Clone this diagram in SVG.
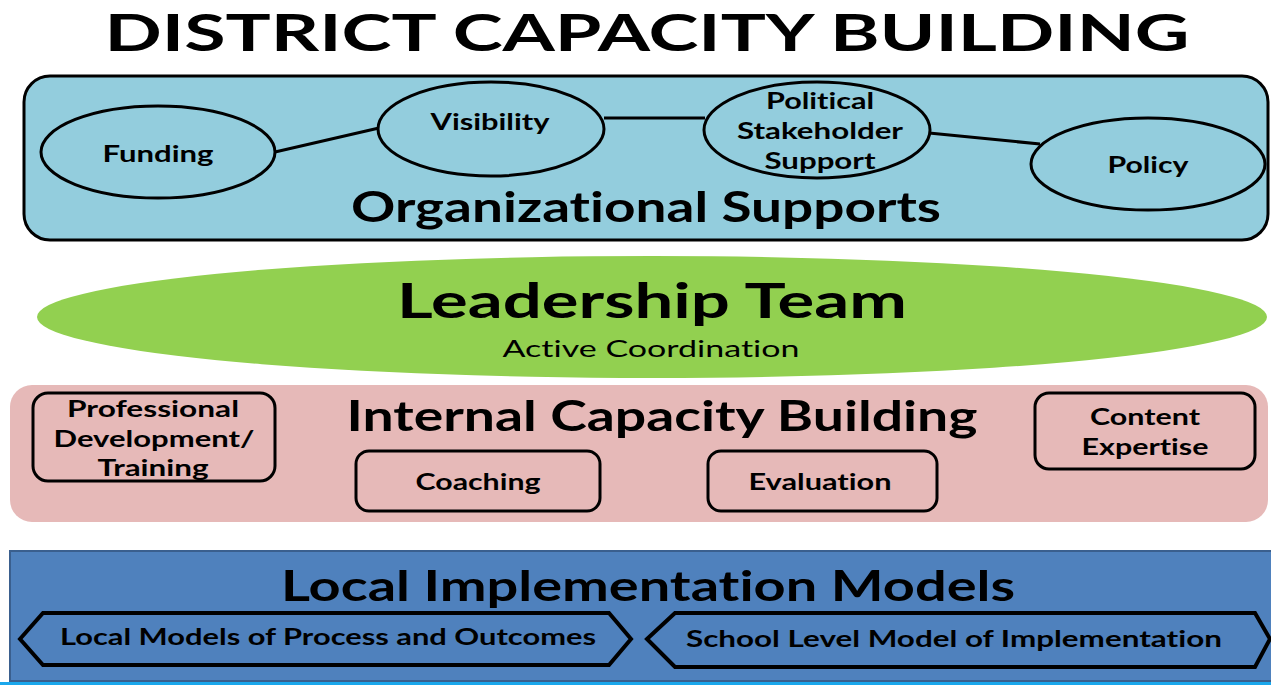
<svg xmlns="http://www.w3.org/2000/svg" width="1271" height="685" viewBox="0 0 1271 685">
  <style>
    text { font-family: Lato, "Open Sans", "Liberation Sans", sans-serif; fill: #000; text-anchor: middle; font-variant-ligatures: none; font-feature-settings: "liga" 0, "dlig" 0, "clig" 0; }
    .title { font-size: 52px; font-weight: 700; }
    .head { font-size: 42px; font-weight: 700; }
    .lead { font-size: 48px; font-weight: 700; }
    .sub { font-size: 24px; font-weight: 400; }
    .lbl { font-size: 23px; font-weight: 700; dominant-baseline: central; }
    .oval { fill: #93CDDD; stroke: #000; stroke-width: 3; }
    .box { fill: #E6B9B8; stroke: #000; stroke-width: 3; }
    .hex { fill: #4F81BD; stroke: #000; stroke-width: 4; stroke-linejoin: miter; }
    .link { stroke: #000; stroke-width: 3; fill: none; }
  </style>

  <rect width="1271" height="685" fill="#fff"/>

  <!-- page title -->
  <text class="title" x="647" y="51" textLength="1085" lengthAdjust="spacingAndGlyphs">DISTRICT CAPACITY BUILDING</text>

  <!-- organizational supports band -->
  <g id="org-supports">
    <rect x="24" y="76" width="1244" height="164" rx="26" fill="#93CDDD" stroke="#000" stroke-width="3"/>
    <text class="head" x="646" y="222" textLength="590" lengthAdjust="spacingAndGlyphs">Organizational Supports</text>
  </g>

  <g id="connectors">
    <line class="link" x1="275" y1="152" x2="379" y2="128"/>
    <line class="link" x1="604" y1="118" x2="705" y2="118"/>
    <line class="link" x1="929" y1="133" x2="1040" y2="144"/>
  </g>

  <g id="funding">
    <ellipse class="oval" cx="158" cy="152" rx="117" ry="46"/>
    <text class="lbl" x="158" y="153" textLength="111" lengthAdjust="spacingAndGlyphs">Funding</text>
  </g>
  <g id="visibility">
    <ellipse class="oval" cx="491" cy="129" rx="113" ry="47"/>
    <text class="lbl" x="490" y="121" textLength="119" lengthAdjust="spacingAndGlyphs">Visibility</text>
  </g>
  <g id="political-support">
    <ellipse class="oval" cx="817" cy="130" rx="113" ry="48"/>
    <text class="lbl" x="820" y="100" textLength="108" lengthAdjust="spacingAndGlyphs">Political</text>
    <text class="lbl" x="820" y="130" textLength="166" lengthAdjust="spacingAndGlyphs">Stakeholder</text>
    <text class="lbl" x="820" y="160" textLength="111" lengthAdjust="spacingAndGlyphs">Support</text>
  </g>
  <g id="policy">
    <ellipse class="oval" cx="1148" cy="164" rx="117" ry="46"/>
    <text class="lbl" x="1148" y="164" textLength="81" lengthAdjust="spacingAndGlyphs">Policy</text>
  </g>

  <!-- leadership team -->
  <g id="leadership-team">
    <ellipse cx="652" cy="317" rx="615" ry="61" fill="#92D050"/>
    <text class="lead" x="652" y="318" textLength="510" lengthAdjust="spacingAndGlyphs">Leadership Team</text>
    <text class="sub" x="651" y="357" textLength="297" lengthAdjust="spacingAndGlyphs">Active Coordination</text>
  </g>

  <!-- internal capacity building band -->
  <g id="internal-capacity">
    <rect x="10" y="385" width="1258" height="137" rx="22" fill="#E6B9B8"/>
    <text class="head" x="662" y="431" textLength="631" lengthAdjust="spacingAndGlyphs">Internal Capacity Building</text>
  </g>
  <g id="professional-development">
    <rect class="box" x="33" y="393" width="242" height="88" rx="15"/>
    <text class="lbl" x="153" y="408" textLength="172" lengthAdjust="spacingAndGlyphs">Professional</text>
    <text class="lbl" x="154" y="438" textLength="201" lengthAdjust="spacingAndGlyphs">Development/</text>
    <text class="lbl" x="153" y="467" textLength="111" lengthAdjust="spacingAndGlyphs">Training</text>
  </g>
  <g id="coaching">
    <rect class="box" x="356" y="451" width="244" height="60" rx="13"/>
    <text class="lbl" x="478" y="481" textLength="125" lengthAdjust="spacingAndGlyphs">Coaching</text>
  </g>
  <g id="evaluation">
    <rect class="box" x="708" y="451" width="229" height="60" rx="13"/>
    <text class="lbl" x="820" y="481" textLength="143" lengthAdjust="spacingAndGlyphs">Evaluation</text>
  </g>
  <g id="content-expertise">
    <rect class="box" x="1035" y="393" width="220" height="76" rx="14"/>
    <text class="lbl" x="1145" y="416" textLength="110" lengthAdjust="spacingAndGlyphs">Content</text>
    <text class="lbl" x="1145" y="446" textLength="127" lengthAdjust="spacingAndGlyphs">Expertise</text>
  </g>

  <!-- local implementation band -->
  <g id="local-implementation">
    <rect x="10" y="551" width="1262" height="130" fill="#4F81BD" stroke="#3A5F8E" stroke-width="2"/>
    <text class="head" x="648" y="601" textLength="734" lengthAdjust="spacingAndGlyphs">Local Implementation Models</text>
  </g>
  <g id="local-models">
    <polygon class="hex" points="20,639 43,613 609,613 631,639 609,665 43,665"/>
    <text class="lbl" x="328" y="636" textLength="536" lengthAdjust="spacingAndGlyphs">Local Models of Process and Outcomes</text>
  </g>
  <g id="school-level-model">
    <polygon class="hex" points="647,639 675,613 1255,613 1270,639 1255,667 675,667"/>
    <text class="lbl" x="954" y="638" textLength="536" lengthAdjust="spacingAndGlyphs">School Level Model of Implementation</text>
  </g>

  <!-- bottom rule -->
  <rect x="0" y="682" width="1271" height="3" fill="#1AA7EC"/>
</svg>
